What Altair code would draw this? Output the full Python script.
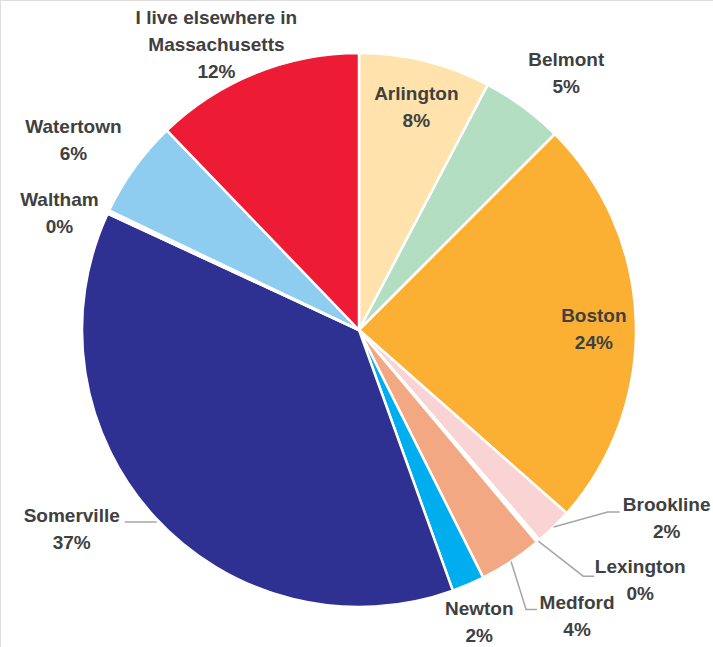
import math
import altair as alt
import pandas as pd

# ---- data ----
towns = ["Arlington", "Belmont", "Boston", "Brookline", "Lexington", "Medford",
         "Newton", "Somerville", "Waltham", "Watertown",
         "I live elsewhere in\nMassachusetts"]
shares = [7.7, 4.8, 24.0, 2.2, 0.2, 3.7, 1.9, 37.4, 0.2, 5.7, 12.2]
pct_labels = ["8%", "5%", "24%", "2%", "0%", "4%", "2%", "37%", "0%", "6%", "12%"]
colors = ["#FFE2AC", "#B3DEC1", "#FBB034", "#FAD4D5", "#FFFFFF", "#F2A983",
          "#00AEEF", "#2E3192", "#FFFFFF", "#8FCDF0", "#ED1B33"]

# ---- layout (pixels) ----
W, H = 713, 647
CX, CY, R = 359, 330, 277
LH = 27  # label line height
# label (block centre) offsets from the rim point at each slice's mid angle
label_off = [(-9, 46), (43, -33), (-42, 8), (113, -9), (102, 39), (66, 55),
             (11, 38), (-83, 12), (-49, 1), (-61, -27), (-39, -28)]
# leader line bend points (offsets from the rim point), empty = no line
leader_pts = {3: [(0, 0), (54, -15), (66, -15)],
              4: [(0, 0), (45, 35), (56, 35)],
              5: [(0, 0), (15, 48), (26, 48)],
              7: [(2, 5), (-30, 5)]}

total = sum(shares)
rows, lines = [], []
cum = 0.0
for i, (t, s) in enumerate(zip(towns, shares)):
    mid = (cum + s / 2) / total * 2 * math.pi
    cum += s
    rx = CX + R * math.sin(mid)
    ry = CY - R * math.cos(mid)
    dx, dy = label_off[i]
    label = t + "\n" + pct_labels[i]
    n = label.count("\n") + 1
    rows.append({"idx": i, "town": t, "share": s, "label": label,
                 "lx": rx + dx, "ly": ry + dy - (n - 1) * LH / 2})
    for k, (ox, oy) in enumerate(leader_pts.get(i, [])):
        lines.append({"town": t, "seq": k, "px": rx + ox, "py": ry + oy})

df = pd.DataFrame(rows)
ldf = pd.DataFrame(lines)

xs = alt.Scale(domain=[0, W], nice=False, zero=False)
ys = alt.Scale(domain=[0, H], nice=False, zero=False, reverse=True)

pie = alt.Chart(df).mark_arc(outerRadius=R, stroke="white", strokeWidth=2.5).encode(
    theta=alt.Theta("share:Q", stack=True),
    order=alt.Order("idx:Q"),
    color=alt.Color("town:N", scale=alt.Scale(domain=towns, range=colors), legend=None),
    x=alt.value(CX),
    y=alt.value(CY),
)

leaders = alt.Chart(ldf).mark_line(color="#A6A6A6", strokeWidth=1.5).encode(
    x=alt.X("px:Q", scale=xs, axis=None),
    y=alt.Y("py:Q", scale=ys, axis=None),
    detail="town:N",
    order="seq:Q",
)

labels = alt.Chart(df).mark_text(
    font="Liberation Sans", fontWeight="bold", fontSize=19,
    color="#404040", align="center", baseline="middle", lineBreak="\n", lineHeight=LH,
).encode(
    x=alt.X("lx:Q", scale=xs, axis=None),
    y=alt.Y("ly:Q", scale=ys, axis=None),
    text="label:N",
)

chart = alt.layer(pie, leaders, labels).properties(
    width=W, height=H, autosize=alt.AutoSizeParams(type="none"), padding=0,
).configure_view(stroke=None).configure(background="white")

chart.save("out.html", embed_options={"renderer": "svg", "actions": False})
